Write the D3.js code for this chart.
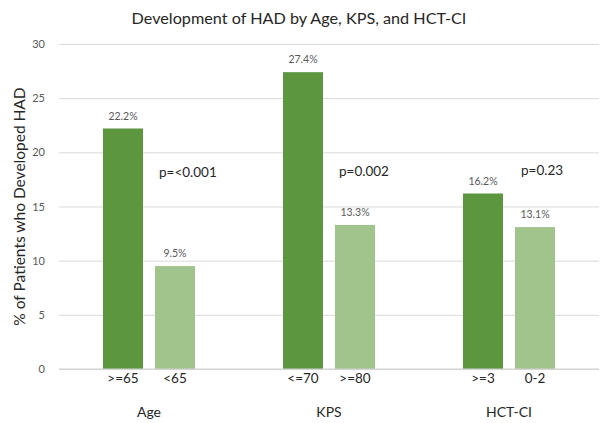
<!DOCTYPE html>
<html>
<head>
<meta charset="utf-8">
<script src="https://cdn.jsdelivr.net/npm/d3@7"></script>
<style>
  html, body { margin: 0; padding: 0; background: #fff; }
  svg { display: block; font-family: Lato, "Open Sans", sans-serif; }
</style>
</head>
<body>
<svg id="chart" width="601" height="423"></svg>
<script>
// Share of patients who developed HAD, per risk group
const groups = ["Age", "KPS", "HCT-CI"];
const highRiskLabels = [">=65", "<=70", ">=3"];
const lowRiskLabels = ["<65", ">=80", "0-2"];
const highRiskValues = [22.2, 27.4, 16.2];
const lowRiskValues = [9.5, 13.3, 13.1];
const pValues = ["p=<0.001", "p=0.002", "p=0.23"];
const pValueLevel = [18.2, 18.3, 18.4];
const yTicks = [0, 5, 10, 15, 20, 25, 30];

const svg = d3.select("#chart");
const margin = { top: 44, right: 2, bottom: 54, left: 59 };
const W = 601, H = 423;
const innerW = W - margin.left - margin.right;
const innerH = H - margin.top - margin.bottom;

const g = svg.append("g").attr("transform", `translate(${margin.left},${margin.top})`);

const x0 = d3.scaleBand().domain(groups).range([0, innerW]).padding(0);
const x1 = d3.scaleBand().domain(["high", "low"])
  .range([x0.bandwidth() / 2 - 46, x0.bandwidth() / 2 + 46])
  .paddingInner(12 / 52);
const y = d3.scaleLinear().domain([0, 30]).range([innerH, 0]);

// gridlines and y tick labels
const yAxis = d3.axisLeft(y).tickValues(yTicks).tickSize(-innerW).tickPadding(14);
g.append("g").call(yAxis).call(a => {
  a.select(".domain").remove();
  a.selectAll(".tick line").attr("stroke", "#d9d9d9").attr("stroke-width", 1);
  a.selectAll(".tick text").attr("fill", "#595959").attr("font-size", 11)
    .attr("font-family", "Lato, 'Open Sans', sans-serif");
});

const rows = groups.map((grp, i) => ({
  grp,
  bars: [
    { key: "high", label: highRiskLabels[i], value: highRiskValues[i], color: "#5c963f" },
    { key: "low", label: lowRiskLabels[i], value: lowRiskValues[i], color: "#a1c48d" }
  ]
}));

const grpG = g.selectAll(".grp").data(rows).join("g")
  .attr("class", "grp")
  .attr("transform", d => `translate(${x0(d.grp)},0)`);

grpG.selectAll("rect").data(d => d.bars).join("rect")
  .attr("x", d => x1(d.key))
  .attr("width", x1.bandwidth())
  .attr("y", d => y(d.value))
  .attr("height", d => innerH - y(d.value))
  .attr("fill", d => d.color);

// value labels above bars
grpG.selectAll(".val").data(d => d.bars).join("text")
  .attr("class", "val")
  .attr("x", d => x1(d.key) + x1.bandwidth() / 2)
  .attr("y", d => y(d.value) - 9)
  .attr("text-anchor", "middle")
  .attr("font-size", 10.5)
  .attr("fill", "#595959")
  .text(d => d.value.toFixed(1) + "%");

// baseline
g.append("line")
  .attr("x1", 0).attr("x2", innerW)
  .attr("y1", innerH).attr("y2", innerH)
  .attr("stroke", "#d0d0d0").attr("stroke-width", 1);

// sub-category labels
grpG.selectAll(".sub").data(d => d.bars).join("text")
  .attr("class", "sub")
  .attr("x", d => x1(d.key) + x1.bandwidth() / 2)
  .attr("y", innerH + 14)
  .attr("text-anchor", "middle")
  .attr("font-size", 13.5)
  .attr("fill", "#262626")
  .text(d => d.label);

// group labels
grpG.append("text")
  .attr("x", x0.bandwidth() / 2)
  .attr("y", innerH + 48)
  .attr("text-anchor", "middle")
  .attr("font-size", 14)
  .attr("fill", "#262626")
  .text(d => d.grp);

// p-values
grpG.append("text")
  .attr("x", (d, i) => x1("low") + 4 + (i === 2 ? 2 : 0))
  .attr("y", (d, i) => y(pValueLevel[i]) + 5)
  .attr("font-size", 13.5)
  .attr("fill", "#262626")
  .text((d, i) => pValues[i]);

// axis title
svg.append("text")
  .attr("transform", `translate(25,${margin.top + innerH / 2}) rotate(-90)`)
  .attr("text-anchor", "middle")
  .attr("font-size", 15.5)
  .attr("fill", "#262626")
  .text("% of Patients who Developed HAD");

// chart title
svg.append("text")
  .attr("x", 299)
  .attr("y", 24)
  .attr("text-anchor", "middle")
  .attr("font-size", 16.2)
  .attr("fill", "#262626")
  .text("Development of HAD by Age, KPS, and HCT-CI");
</script>
</body>
</html>
